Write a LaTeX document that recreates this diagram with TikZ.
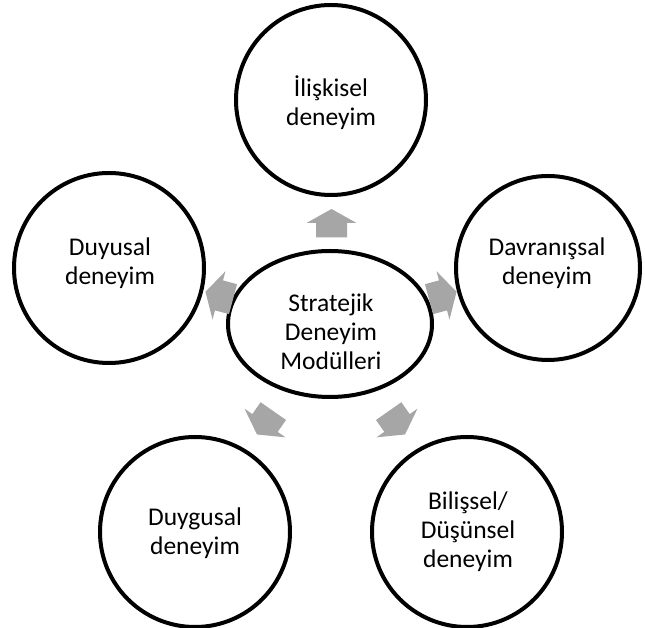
\documentclass[tikz,border=0pt]{standalone}
\usepackage{fontspec}
\setmainfont{Carlito}
\usetikzlibrary{shapes.geometric}
\definecolor{arrowgray}{RGB}{166,166,166}
\begin{document}
\begin{tikzpicture}[x=1pt,y=1pt,
  circ/.style={circle, draw=black, line width=4pt, minimum size=190pt, inner sep=0pt},
  ell/.style={ellipse, draw=black, line width=4pt, minimum width=204pt, minimum height=146pt, inner sep=0pt},
  lbl/.style={align=center, font=\fontsize{25.5}{29}\selectfont, inner sep=0pt},
  pics/blockarrow/.style={code={
    \fill[arrowgray] (14,0) -- (0,25) -- (0,15.5) -- (-14.5,15.5) -- (-14.5,-15.5) -- (0,-15.5) -- (0,-25) -- cycle;}}
]
\fill[white] (0,0) rectangle (645,628);
\useasboundingbox (0,0) rectangle (645,628);
% circles
\node[circ] (top) at (331,528) {};
\node[circ] (left) at (109,360) {};
\node[circ, minimum size=184pt] (right) at (548,360) {};
\node[circ] (bl) at (195,96) {};
\node[circ] (br) at (467,96) {};
\node[ell] (mid) at (330,304) {};
% labels
\node[lbl] (ttop) at (331,525) {İlişkisel\\deneyim};
\node[lbl] (tleft) at (110,365) {Duyusal\\deneyim};
\node[lbl] (tright) at (547,365) {Davranışsal\\deneyim};
\node[lbl] (tbl) at (195,95) {Duygusal\\deneyim};
\node[lbl] (tbr) at (468,96) {Bilişsel/\\Düşünsel\\deneyim};
\node[lbl] (tmid) at (331,296) {Stratejik\\Deneyim\\Modülleri};
% arrows
\pic[rotate=90] at (331.5,405) {blockarrow};
\pic[rotate=165] at (219,332.6) {blockarrow};
\pic[rotate=15] at (443,332.6) {blockarrow};
\pic[rotate=235] at (265,205) {blockarrow};
\pic[rotate=-55] at (397,205) {blockarrow};
\end{tikzpicture}
\end{document}
